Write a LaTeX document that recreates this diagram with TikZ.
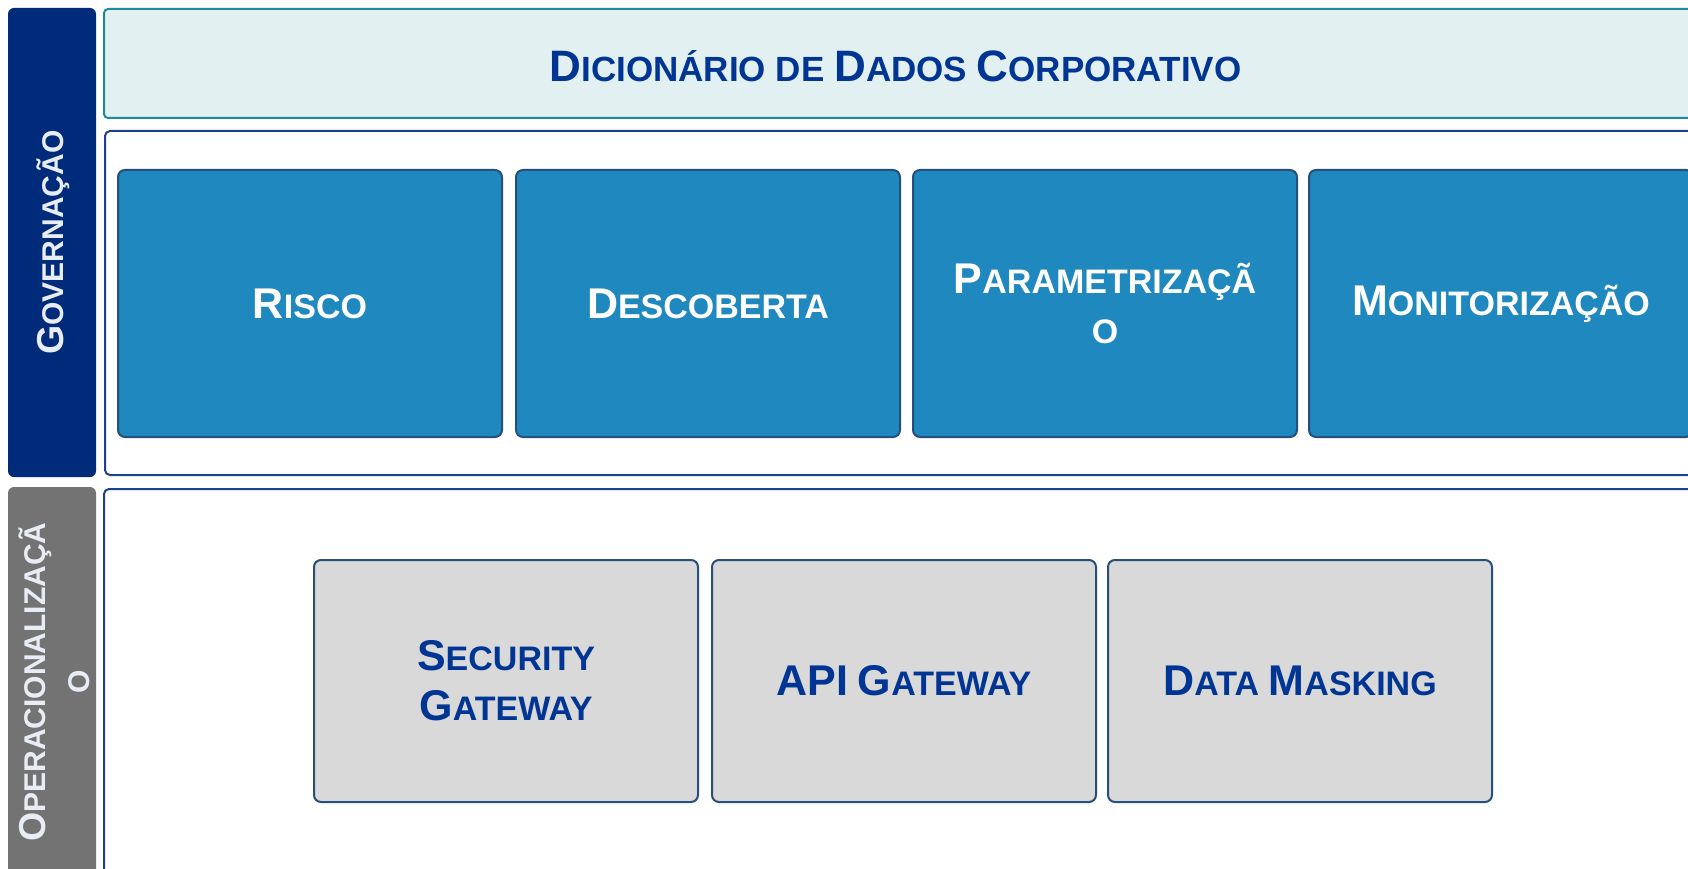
\documentclass[tikz,border=0pt]{standalone}
\usepackage{fontspec}
\setmainfont{Liberation Sans}
\definecolor{navy}{HTML}{002A7A}
\definecolor{govtxt}{HTML}{E8EDF5}
\definecolor{opgray}{HTML}{737373}
\definecolor{hdrfill}{HTML}{E2F0F2}
\definecolor{hdrline}{HTML}{1B8A9A}
\definecolor{frameline}{HTML}{1F3F8F}
\definecolor{bluefill}{HTML}{1F88BE}
\definecolor{boxline}{HTML}{264F7C}
\definecolor{grayfill}{HTML}{D9D9D9}
\definecolor{darktxt}{HTML}{003594}
\newcommand\Bg[1]{{\fontsize{43}{50}\selectfont #1}}
\newcommand\Hb[1]{{\fontsize{44}{50}\selectfont #1}}
\newcommand\Sb[1]{{\fontsize{37.5}{44}\selectfont #1}}
\tikzset{
  base/.style={anchor=north west, inner sep=0pt, outer sep=0pt, align=center,
    font=\bfseries\fontsize{34}{50}\selectfont},
  sidebar/.style={base, rounded corners=6pt},
  header/.style={base, draw=hdrline, fill=hdrfill, line width=2pt, rounded corners=4pt},
  frame/.style={base, draw=frameline, fill=white, line width=2pt, rounded corners=5pt},
  bluebox/.style={base, draw=boxline, fill=bluefill, line width=2pt, rounded corners=7pt,
    text=white, minimum width=384pt, minimum height=267pt},
  graybox/.style={base, draw=boxline, fill=grayfill, line width=2pt, rounded corners=7pt,
    text=darktxt, minimum width=384pt, minimum height=242pt},
  sidelabel/.style={rotate=90, inner sep=0pt, align=center,
    font=\bfseries\fontsize{30}{44}\selectfont},
  hdrtext/.style={inner sep=0pt, text=darktxt, font=\bfseries\fontsize{35}{40}\selectfont}
}
\begin{document}
\begin{tikzpicture}[x=1pt,y=-1pt]
\useasboundingbox (0,0) rectangle (1688,869);
\clip (0,0) rectangle (1688,869);
% side bars
\node[sidebar, fill=navy, minimum width=88pt, minimum height=469pt] (gov) at (8,8) {};
\node[sidelabel, text=govtxt] (govlbl) at ([xshift=1pt]gov.center) {\Sb{G}OVERNAÇÃO};
\node[sidebar, fill=opgray, minimum width=88pt, minimum height=400pt] (op) at (8,487) {};
\node[sidelabel, text=govtxt] (oplbl) at ([xshift=2pt,yshift=5pt]op.center) {\Sb{O}PERACIONALIZAÇÃ\\O};
% header
\node[header, minimum width=1591pt, minimum height=109pt] (hdr) at (104,9) {};
\node[hdrtext] (hdrlbl) at ([xshift=-4pt,yshift=-3pt]hdr.center)
  {\Hb{D}ICIONÁRIO DE \Hb{D}ADOS \Hb{C}ORPORATIVO};
% frames
\node[frame, minimum width=1590pt, minimum height=344pt] (govframe) at (105,131) {};
\node[frame, minimum width=1591pt, minimum height=400pt] (opframe) at (104,489) {};
% governance boxes
\node[bluebox] (risco) at (118,170) {\Bg{R}ISCO};
\node[bluebox] (desc) at (516,170) {\Bg{D}ESCOBERTA};
\node[bluebox] (param) at (913,170) {\Bg{P}ARAMETRIZAÇÃ\\O};
\node[bluebox] (monit) at (1309,170) {\Bg{M}ONITORIZAÇÃO};
% operational boxes
\node[graybox] (secgw) at (314,560) {\Bg{S}ECURITY\\\Bg{G}ATEWAY};
\node[graybox] (apigw) at (712,560) {\Bg{API} \Bg{G}ATEWAY};
\node[graybox] (mask) at (1108,560) {\Bg{D}ATA \Bg{M}ASKING};
\end{tikzpicture}
\end{document}
